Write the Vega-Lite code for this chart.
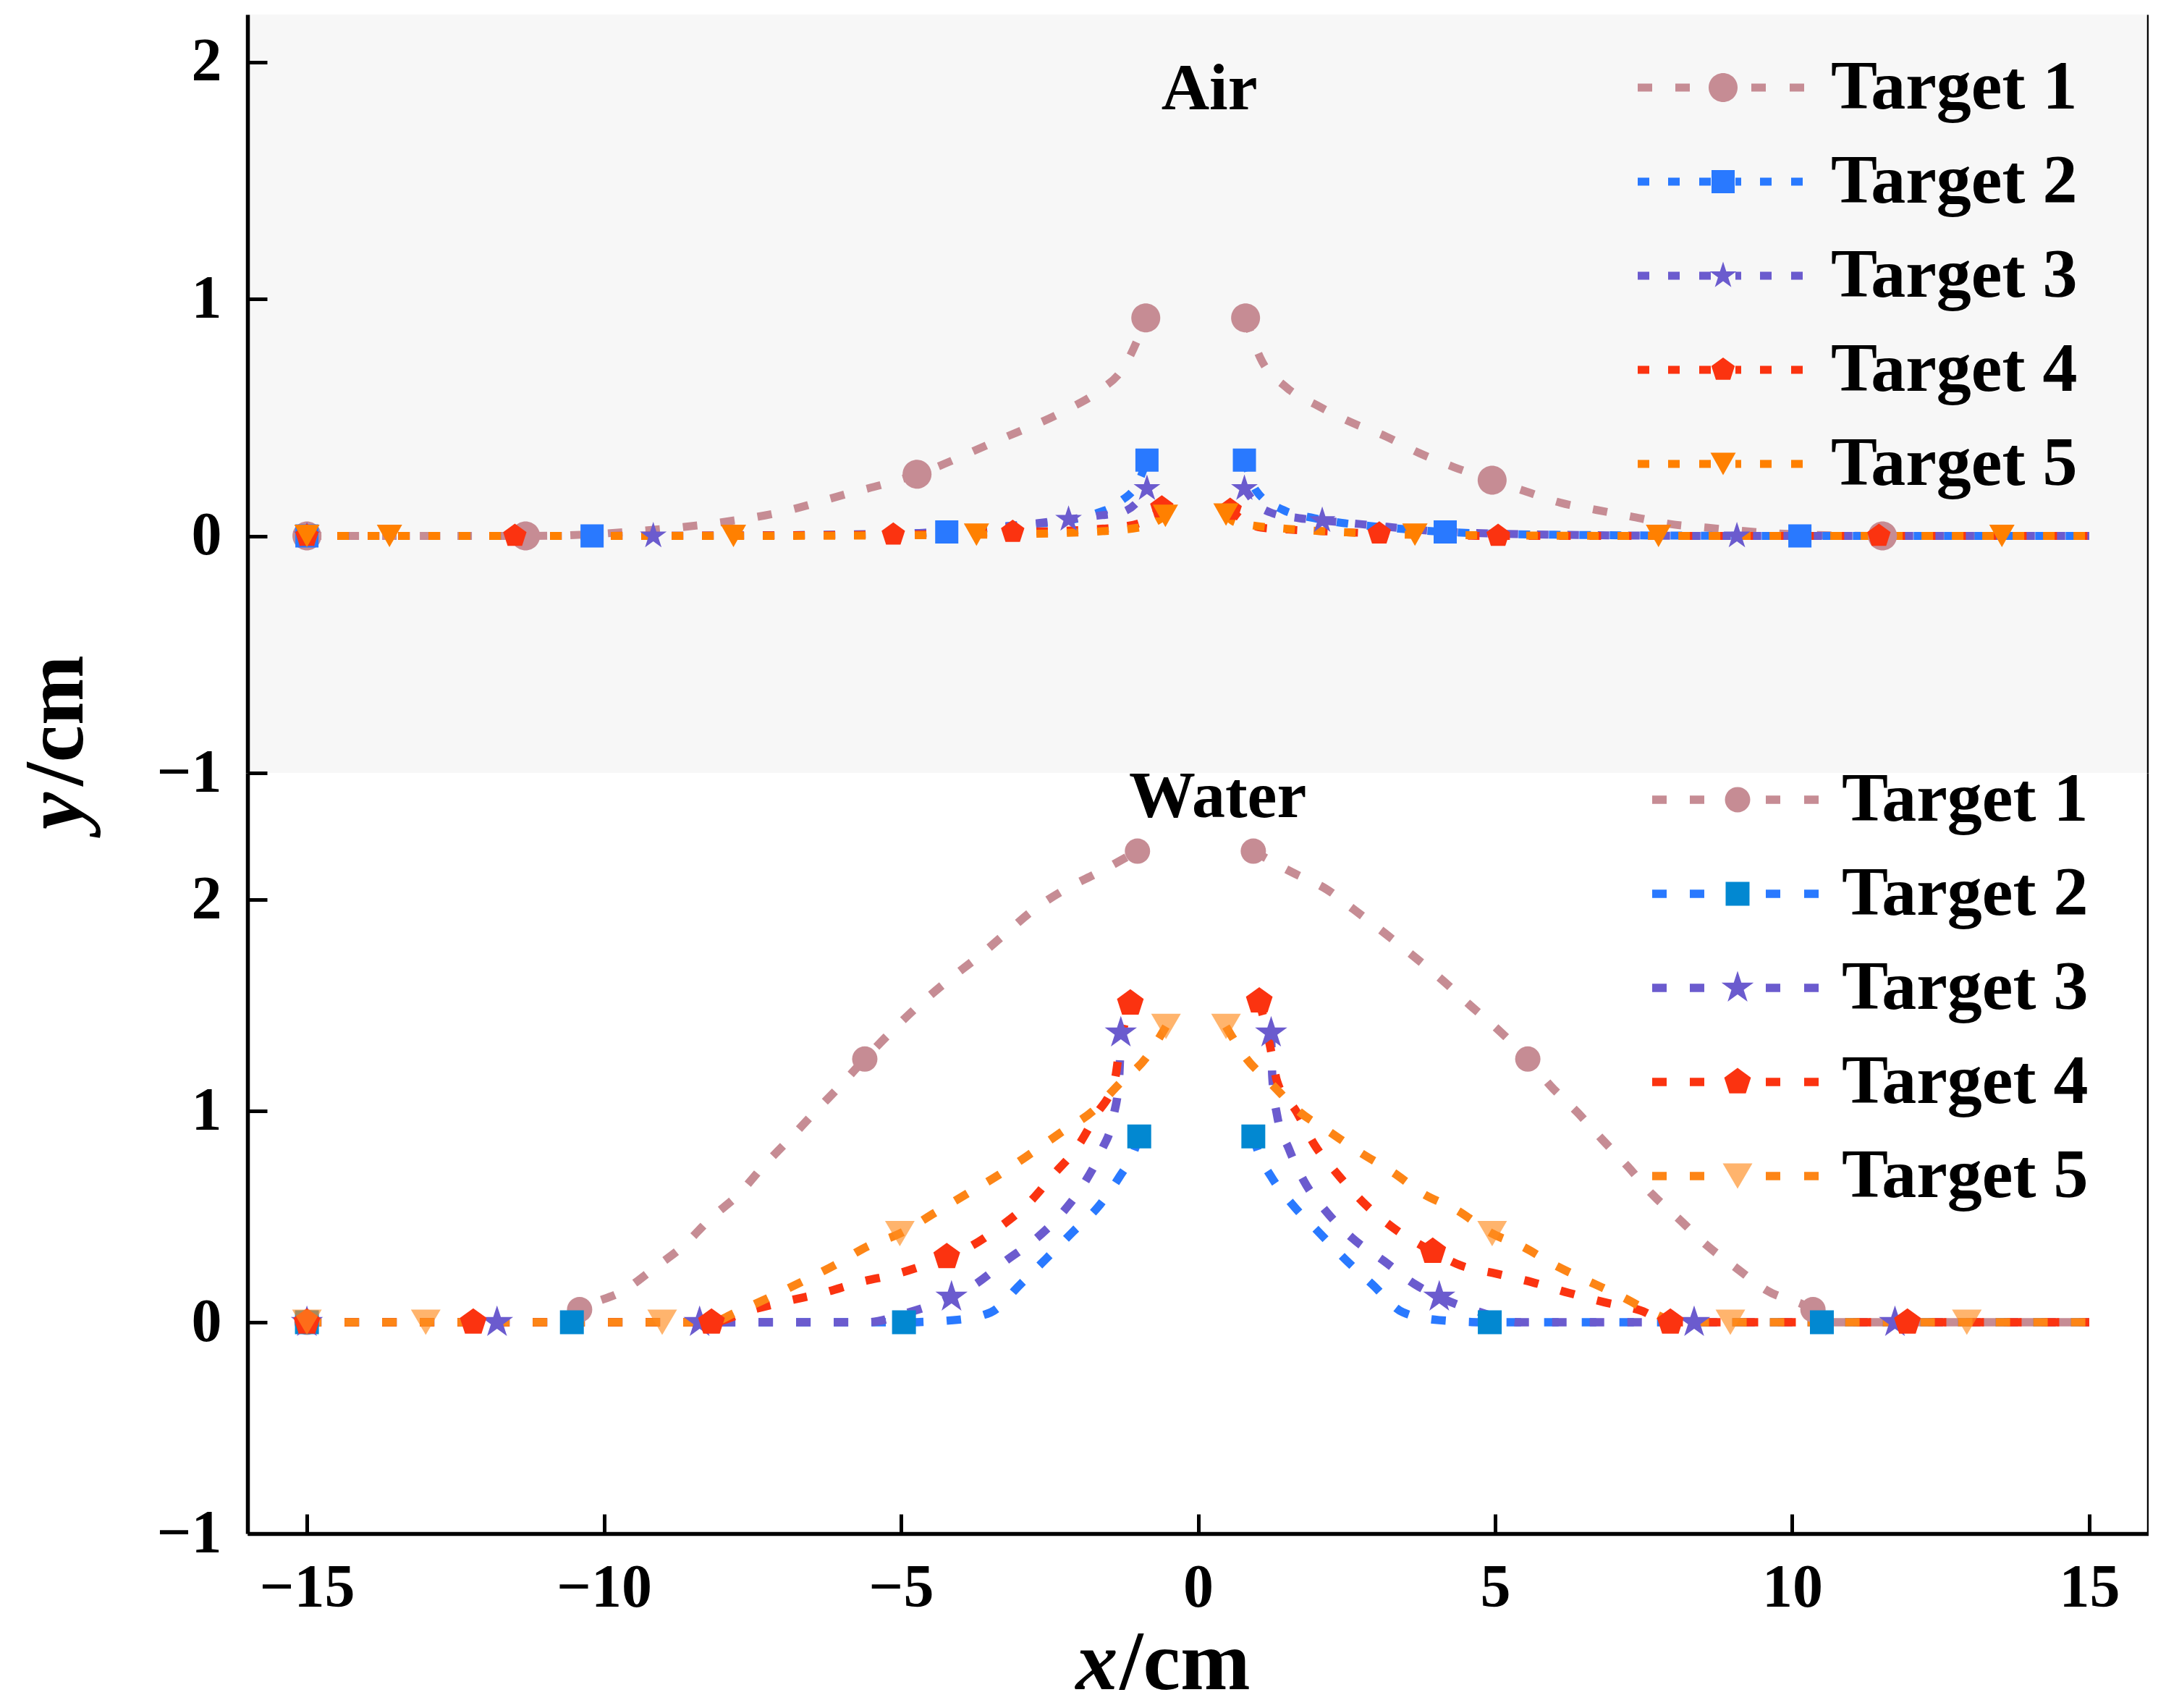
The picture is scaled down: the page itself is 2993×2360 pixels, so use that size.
{
  "$schema": "https://vega.github.io/schema/vega-lite/v6.json",
  "background": "white",
  "padding": {"left": 20, "top": 20, "right": 0, "bottom": 0},
  "spacing": 0,
  "bounds": "flush",
  "config": {
    "font": "Liberation Serif",
    "view": {"stroke": null},
    "axis": {
      "grid": false,
      "domainColor": "black",
      "domainWidth": 5.5,
      "tickColor": "black",
      "tickWidth": 5,
      "tickSize": -27,
      "labelFont": "Liberation Serif",
      "labelFontSize": 84,
      "labelFontWeight": "bold",
      "labelColor": "black",
      "titleFont": "Liberation Serif",
      "titleFontSize": 116,
      "titleFontWeight": "bold",
      "titleColor": "black"
    },
    "legend": {
      "labelFont": "Liberation Serif",
      "labelFontSize": 96,
      "labelFontWeight": "bold",
      "labelColor": "black",
      "labelLimit": 0,
      "padding": 0,
      "rowPadding": 34,
      "symbolSize": 1600
    }
  },
  "datasets": {
    "air_line": [
      {"target": "Target 1", "side": "L", "x": -15, "y": 0},
      {"target": "Target 1", "side": "L", "x": -11.32, "y": 0},
      {"target": "Target 1", "side": "L", "x": -10, "y": 0.01},
      {"target": "Target 1", "side": "L", "x": -9.45, "y": 0.02},
      {"target": "Target 1", "side": "L", "x": -8.25, "y": 0.05},
      {"target": "Target 1", "side": "L", "x": -7.03, "y": 0.1},
      {"target": "Target 1", "side": "L", "x": -5.87, "y": 0.18},
      {"target": "Target 1", "side": "L", "x": -5.26, "y": 0.22},
      {"target": "Target 1", "side": "L", "x": -4.73, "y": 0.26},
      {"target": "Target 1", "side": "L", "x": -3.4, "y": 0.4},
      {"target": "Target 1", "side": "L", "x": -2.23, "y": 0.53},
      {"target": "Target 1", "side": "L", "x": -1.68, "y": 0.61},
      {"target": "Target 1", "side": "L", "x": -1.23, "y": 0.72},
      {"target": "Target 1", "side": "L", "x": -1.0, "y": 0.84},
      {"target": "Target 1", "side": "L", "x": -0.88, "y": 0.92},
      {"target": "Target 1", "side": "R", "x": 0.8, "y": 0.92},
      {"target": "Target 1", "side": "R", "x": 1.05, "y": 0.75},
      {"target": "Target 1", "side": "R", "x": 1.47, "y": 0.63},
      {"target": "Target 1", "side": "R", "x": 2.01, "y": 0.55},
      {"target": "Target 1", "side": "R", "x": 2.57, "y": 0.48},
      {"target": "Target 1", "side": "R", "x": 3.16, "y": 0.42},
      {"target": "Target 1", "side": "R", "x": 3.72, "y": 0.35},
      {"target": "Target 1", "side": "R", "x": 4.31, "y": 0.29},
      {"target": "Target 1", "side": "R", "x": 4.95, "y": 0.235},
      {"target": "Target 1", "side": "R", "x": 5.49, "y": 0.19},
      {"target": "Target 1", "side": "R", "x": 6.1, "y": 0.14},
      {"target": "Target 1", "side": "R", "x": 6.7, "y": 0.11},
      {"target": "Target 1", "side": "R", "x": 7.33, "y": 0.08},
      {"target": "Target 1", "side": "R", "x": 7.95, "y": 0.05},
      {"target": "Target 1", "side": "R", "x": 8.56, "y": 0.035},
      {"target": "Target 1", "side": "R", "x": 9.79, "y": 0.01},
      {"target": "Target 1", "side": "R", "x": 11.52, "y": 0},
      {"target": "Target 1", "side": "R", "x": 15, "y": 0},
      {"target": "Target 2", "side": "L", "x": -15, "y": 0},
      {"target": "Target 2", "side": "L", "x": -10.2, "y": 0},
      {"target": "Target 2", "side": "L", "x": -6, "y": 0.005},
      {"target": "Target 2", "side": "L", "x": -4.23, "y": 0.017},
      {"target": "Target 2", "side": "L", "x": -3.3, "y": 0.04},
      {"target": "Target 2", "side": "L", "x": -2.82, "y": 0.05},
      {"target": "Target 2", "side": "L", "x": -2.2, "y": 0.065},
      {"target": "Target 2", "side": "L", "x": -1.78, "y": 0.09},
      {"target": "Target 2", "side": "L", "x": -1.31, "y": 0.145},
      {"target": "Target 2", "side": "L", "x": -1.0, "y": 0.23},
      {"target": "Target 2", "side": "L", "x": -0.86, "y": 0.32},
      {"target": "Target 2", "side": "R", "x": 0.78, "y": 0.32},
      {"target": "Target 2", "side": "R", "x": 0.98, "y": 0.19},
      {"target": "Target 2", "side": "R", "x": 1.43, "y": 0.11},
      {"target": "Target 2", "side": "R", "x": 1.95, "y": 0.075},
      {"target": "Target 2", "side": "R", "x": 2.42, "y": 0.055},
      {"target": "Target 2", "side": "R", "x": 2.98, "y": 0.04},
      {"target": "Target 2", "side": "R", "x": 4.16, "y": 0.017},
      {"target": "Target 2", "side": "R", "x": 6, "y": 0.005},
      {"target": "Target 2", "side": "R", "x": 10.13, "y": 0},
      {"target": "Target 2", "side": "R", "x": 15, "y": 0},
      {"target": "Target 3", "side": "L", "x": -15, "y": 0},
      {"target": "Target 3", "side": "L", "x": -9.17, "y": 0},
      {"target": "Target 3", "side": "L", "x": -5, "y": 0.01},
      {"target": "Target 3", "side": "L", "x": -3, "y": 0.045},
      {"target": "Target 3", "side": "L", "x": -2.18, "y": 0.07},
      {"target": "Target 3", "side": "L", "x": -1.7, "y": 0.085},
      {"target": "Target 3", "side": "L", "x": -1.28, "y": 0.1},
      {"target": "Target 3", "side": "L", "x": -1.0, "y": 0.15},
      {"target": "Target 3", "side": "L", "x": -0.86, "y": 0.2},
      {"target": "Target 3", "side": "R", "x": 0.78, "y": 0.2},
      {"target": "Target 3", "side": "R", "x": 1.0, "y": 0.13},
      {"target": "Target 3", "side": "R", "x": 1.21, "y": 0.1},
      {"target": "Target 3", "side": "R", "x": 1.7, "y": 0.075},
      {"target": "Target 3", "side": "R", "x": 2.09, "y": 0.065},
      {"target": "Target 3", "side": "R", "x": 2.73, "y": 0.05},
      {"target": "Target 3", "side": "R", "x": 4, "y": 0.02},
      {"target": "Target 3", "side": "R", "x": 6, "y": 0.005},
      {"target": "Target 3", "side": "R", "x": 9.07, "y": 0},
      {"target": "Target 3", "side": "R", "x": 15, "y": 0},
      {"target": "Target 4", "side": "L", "x": -15, "y": 0},
      {"target": "Target 4", "side": "L", "x": -11.5, "y": 0},
      {"target": "Target 4", "side": "L", "x": -5.13, "y": 0.005},
      {"target": "Target 4", "side": "L", "x": -3.12, "y": 0.017},
      {"target": "Target 4", "side": "L", "x": -2.0, "y": 0.025},
      {"target": "Target 4", "side": "L", "x": -1.25, "y": 0.04},
      {"target": "Target 4", "side": "L", "x": -0.85, "y": 0.07},
      {"target": "Target 4", "side": "L", "x": -0.61, "y": 0.12},
      {"target": "Target 4", "side": "R", "x": 0.54, "y": 0.11},
      {"target": "Target 4", "side": "R", "x": 0.8, "y": 0.06},
      {"target": "Target 4", "side": "R", "x": 1.06, "y": 0.035},
      {"target": "Target 4", "side": "R", "x": 1.58, "y": 0.026},
      {"target": "Target 4", "side": "R", "x": 2.08, "y": 0.02},
      {"target": "Target 4", "side": "R", "x": 3.05, "y": 0.01},
      {"target": "Target 4", "side": "R", "x": 5.05, "y": 0},
      {"target": "Target 4", "side": "R", "x": 11.46, "y": 0},
      {"target": "Target 4", "side": "R", "x": 15, "y": 0},
      {"target": "Target 5", "side": "L", "x": -15, "y": 0},
      {"target": "Target 5", "side": "L", "x": -13.61, "y": 0},
      {"target": "Target 5", "side": "L", "x": -7.82, "y": 0},
      {"target": "Target 5", "side": "L", "x": -3.73, "y": 0.005},
      {"target": "Target 5", "side": "L", "x": -2, "y": 0.015},
      {"target": "Target 5", "side": "L", "x": -1, "y": 0.035},
      {"target": "Target 5", "side": "L", "x": -0.75, "y": 0.055},
      {"target": "Target 5", "side": "L", "x": -0.55, "y": 0.085},
      {"target": "Target 5", "side": "R", "x": 0.47, "y": 0.09},
      {"target": "Target 5", "side": "R", "x": 0.6, "y": 0.06},
      {"target": "Target 5", "side": "R", "x": 0.9, "y": 0.045},
      {"target": "Target 5", "side": "R", "x": 1.5, "y": 0.03},
      {"target": "Target 5", "side": "R", "x": 2.5, "y": 0.015},
      {"target": "Target 5", "side": "R", "x": 3.65, "y": 0.005},
      {"target": "Target 5", "side": "R", "x": 7.75, "y": 0},
      {"target": "Target 5", "side": "R", "x": 13.53, "y": 0},
      {"target": "Target 5", "side": "R", "x": 15, "y": 0}
    ],
    "air_pts": [
      {"marker": "Target 1", "x": -15, "y": 0},
      {"marker": "Target 1", "x": -11.32, "y": 0},
      {"marker": "Target 1", "x": -4.73, "y": 0.26},
      {"marker": "Target 1", "x": -0.88, "y": 0.92},
      {"marker": "Target 1", "x": 0.8, "y": 0.92},
      {"marker": "Target 1", "x": 4.95, "y": 0.235},
      {"marker": "Target 1", "x": 11.52, "y": 0},
      {"marker": "Target 2", "x": -15, "y": 0},
      {"marker": "Target 2", "x": -10.2, "y": 0},
      {"marker": "Target 2", "x": -4.23, "y": 0.017},
      {"marker": "Target 2", "x": -0.86, "y": 0.32},
      {"marker": "Target 2", "x": 0.78, "y": 0.32},
      {"marker": "Target 2", "x": 4.16, "y": 0.017},
      {"marker": "Target 2", "x": 10.13, "y": 0},
      {"marker": "Target 3", "x": -15, "y": 0},
      {"marker": "Target 3", "x": -9.17, "y": 0},
      {"marker": "Target 3", "x": -2.18, "y": 0.07},
      {"marker": "Target 3", "x": -0.86, "y": 0.2},
      {"marker": "Target 3", "x": 0.78, "y": 0.2},
      {"marker": "Target 3", "x": 2.09, "y": 0.065},
      {"marker": "Target 3", "x": 9.07, "y": 0},
      {"marker": "Target 4", "x": -15, "y": 0},
      {"marker": "Target 4", "x": -11.5, "y": 0},
      {"marker": "Target 4", "x": -5.13, "y": 0.005},
      {"marker": "Target 4", "x": -3.12, "y": 0.017},
      {"marker": "Target 4", "x": -0.61, "y": 0.12},
      {"marker": "Target 4", "x": 0.54, "y": 0.11},
      {"marker": "Target 4", "x": 3.05, "y": 0.01},
      {"marker": "Target 4", "x": 5.05, "y": 0},
      {"marker": "Target 4", "x": 11.46, "y": 0},
      {"marker": "Target 5", "x": -15, "y": 0},
      {"marker": "Target 5", "x": -13.61, "y": 0},
      {"marker": "Target 5", "x": -7.82, "y": 0},
      {"marker": "Target 5", "x": -3.73, "y": 0.005},
      {"marker": "Target 5", "x": -0.55, "y": 0.085},
      {"marker": "Target 5", "x": 0.47, "y": 0.09},
      {"marker": "Target 5", "x": 3.65, "y": 0.005},
      {"marker": "Target 5", "x": 7.75, "y": 0},
      {"marker": "Target 5", "x": 13.53, "y": 0}
    ],
    "water_line": [
      {"target": "Target 1", "side": "L", "x": -15, "y": 0},
      {"target": "Target 1", "side": "L", "x": -10.7, "y": 0},
      {"target": "Target 1", "side": "L", "x": -10.41, "y": 0.06},
      {"target": "Target 1", "side": "L", "x": -9.65, "y": 0.153},
      {"target": "Target 1", "side": "L", "x": -9.15, "y": 0.257},
      {"target": "Target 1", "side": "L", "x": -8.67, "y": 0.36},
      {"target": "Target 1", "side": "L", "x": -8.21, "y": 0.49},
      {"target": "Target 1", "side": "L", "x": -7.73, "y": 0.607},
      {"target": "Target 1", "side": "L", "x": -7.33, "y": 0.735},
      {"target": "Target 1", "side": "L", "x": -6.88, "y": 0.866},
      {"target": "Target 1", "side": "L", "x": -6.45, "y": 0.995},
      {"target": "Target 1", "side": "L", "x": -6.02, "y": 1.12},
      {"target": "Target 1", "side": "L", "x": -5.61, "y": 1.246},
      {"target": "Target 1", "side": "L", "x": -5.13, "y": 1.385},
      {"target": "Target 1", "side": "L", "x": -4.7, "y": 1.5},
      {"target": "Target 1", "side": "L", "x": -4.2, "y": 1.62},
      {"target": "Target 1", "side": "L", "x": -3.7, "y": 1.73},
      {"target": "Target 1", "side": "L", "x": -3.24, "y": 1.84},
      {"target": "Target 1", "side": "L", "x": -2.78, "y": 1.95},
      {"target": "Target 1", "side": "L", "x": -2.23, "y": 2.05},
      {"target": "Target 1", "side": "L", "x": -1.67, "y": 2.13},
      {"target": "Target 1", "side": "L", "x": -1.02, "y": 2.23},
      {"target": "Target 1", "side": "R", "x": 0.93, "y": 2.23},
      {"target": "Target 1", "side": "R", "x": 1.58, "y": 2.13},
      {"target": "Target 1", "side": "R", "x": 2.16, "y": 2.05},
      {"target": "Target 1", "side": "R", "x": 2.64, "y": 1.95},
      {"target": "Target 1", "side": "R", "x": 3.15, "y": 1.84},
      {"target": "Target 1", "side": "R", "x": 3.64, "y": 1.73},
      {"target": "Target 1", "side": "R", "x": 4.11, "y": 1.62},
      {"target": "Target 1", "side": "R", "x": 4.58, "y": 1.5},
      {"target": "Target 1", "side": "R", "x": 5.05, "y": 1.385},
      {"target": "Target 1", "side": "R", "x": 5.55, "y": 1.246},
      {"target": "Target 1", "side": "R", "x": 5.93, "y": 1.12},
      {"target": "Target 1", "side": "R", "x": 6.38, "y": 0.995},
      {"target": "Target 1", "side": "R", "x": 6.8, "y": 0.866},
      {"target": "Target 1", "side": "R", "x": 7.24, "y": 0.735},
      {"target": "Target 1", "side": "R", "x": 7.64, "y": 0.607},
      {"target": "Target 1", "side": "R", "x": 8.09, "y": 0.49},
      {"target": "Target 1", "side": "R", "x": 8.58, "y": 0.36},
      {"target": "Target 1", "side": "R", "x": 9.06, "y": 0.257},
      {"target": "Target 1", "side": "R", "x": 9.56, "y": 0.153},
      {"target": "Target 1", "side": "R", "x": 10.35, "y": 0.06},
      {"target": "Target 1", "side": "R", "x": 10.65, "y": 0},
      {"target": "Target 1", "side": "R", "x": 15, "y": 0},
      {"target": "Target 2", "side": "L", "x": -15, "y": 0},
      {"target": "Target 2", "side": "L", "x": -10.54, "y": 0},
      {"target": "Target 2", "side": "L", "x": -4.95, "y": 0},
      {"target": "Target 2", "side": "L", "x": -4.12, "y": 0.01},
      {"target": "Target 2", "side": "L", "x": -3.49, "y": 0.047},
      {"target": "Target 2", "side": "L", "x": -2.99, "y": 0.18},
      {"target": "Target 2", "side": "L", "x": -2.56, "y": 0.3},
      {"target": "Target 2", "side": "L", "x": -2.1, "y": 0.43},
      {"target": "Target 2", "side": "L", "x": -1.67, "y": 0.55},
      {"target": "Target 2", "side": "L", "x": -1.32, "y": 0.69},
      {"target": "Target 2", "side": "L", "x": -1.09, "y": 0.8},
      {"target": "Target 2", "side": "L", "x": -0.99, "y": 0.88},
      {"target": "Target 2", "side": "R", "x": 0.93, "y": 0.88},
      {"target": "Target 2", "side": "R", "x": 1.02, "y": 0.8},
      {"target": "Target 2", "side": "R", "x": 1.23, "y": 0.69},
      {"target": "Target 2", "side": "R", "x": 1.61, "y": 0.55},
      {"target": "Target 2", "side": "R", "x": 2.02, "y": 0.43},
      {"target": "Target 2", "side": "R", "x": 2.47, "y": 0.3},
      {"target": "Target 2", "side": "R", "x": 2.93, "y": 0.18},
      {"target": "Target 2", "side": "R", "x": 3.45, "y": 0.047},
      {"target": "Target 2", "side": "R", "x": 4.06, "y": 0.01},
      {"target": "Target 2", "side": "R", "x": 4.91, "y": 0},
      {"target": "Target 2", "side": "R", "x": 10.5, "y": 0},
      {"target": "Target 2", "side": "R", "x": 15, "y": 0},
      {"target": "Target 3", "side": "L", "x": -15, "y": 0},
      {"target": "Target 3", "side": "L", "x": -11.8, "y": 0},
      {"target": "Target 3", "side": "L", "x": -8.39, "y": 0},
      {"target": "Target 3", "side": "L", "x": -5.56, "y": 0},
      {"target": "Target 3", "side": "L", "x": -4.95, "y": 0.04},
      {"target": "Target 3", "side": "L", "x": -4.15, "y": 0.12},
      {"target": "Target 3", "side": "L", "x": -3.75, "y": 0.18},
      {"target": "Target 3", "side": "L", "x": -3.24, "y": 0.29},
      {"target": "Target 3", "side": "L", "x": -2.71, "y": 0.4},
      {"target": "Target 3", "side": "L", "x": -2.28, "y": 0.52},
      {"target": "Target 3", "side": "L", "x": -1.89, "y": 0.67},
      {"target": "Target 3", "side": "L", "x": -1.63, "y": 0.81},
      {"target": "Target 3", "side": "L", "x": -1.42, "y": 0.98},
      {"target": "Target 3", "side": "L", "x": -1.33, "y": 1.15},
      {"target": "Target 3", "side": "L", "x": -1.3, "y": 1.37},
      {"target": "Target 3", "side": "R", "x": 1.23, "y": 1.37},
      {"target": "Target 3", "side": "R", "x": 1.25, "y": 1.16},
      {"target": "Target 3", "side": "R", "x": 1.33, "y": 0.98},
      {"target": "Target 3", "side": "R", "x": 1.53, "y": 0.82},
      {"target": "Target 3", "side": "R", "x": 1.78, "y": 0.67},
      {"target": "Target 3", "side": "R", "x": 2.17, "y": 0.52},
      {"target": "Target 3", "side": "R", "x": 2.59, "y": 0.4},
      {"target": "Target 3", "side": "R", "x": 3.13, "y": 0.29},
      {"target": "Target 3", "side": "R", "x": 3.65, "y": 0.18},
      {"target": "Target 3", "side": "R", "x": 4.06, "y": 0.12},
      {"target": "Target 3", "side": "R", "x": 4.84, "y": 0.04},
      {"target": "Target 3", "side": "R", "x": 5.4, "y": 0},
      {"target": "Target 3", "side": "R", "x": 8.35, "y": 0},
      {"target": "Target 3", "side": "R", "x": 11.73, "y": 0},
      {"target": "Target 3", "side": "R", "x": 15, "y": 0},
      {"target": "Target 4", "side": "L", "x": -15, "y": 0},
      {"target": "Target 4", "side": "L", "x": -12.2, "y": 0},
      {"target": "Target 4", "side": "L", "x": -8.19, "y": 0},
      {"target": "Target 4", "side": "L", "x": -7.53, "y": 0.057},
      {"target": "Target 4", "side": "L", "x": -6.92, "y": 0.1},
      {"target": "Target 4", "side": "L", "x": -6.3, "y": 0.14},
      {"target": "Target 4", "side": "L", "x": -5.69, "y": 0.19},
      {"target": "Target 4", "side": "L", "x": -5.06, "y": 0.23},
      {"target": "Target 4", "side": "L", "x": -4.23, "y": 0.31},
      {"target": "Target 4", "side": "L", "x": -3.89, "y": 0.35},
      {"target": "Target 4", "side": "L", "x": -3.34, "y": 0.45},
      {"target": "Target 4", "side": "L", "x": -2.83, "y": 0.57},
      {"target": "Target 4", "side": "L", "x": -2.43, "y": 0.7},
      {"target": "Target 4", "side": "L", "x": -2.03, "y": 0.83},
      {"target": "Target 4", "side": "L", "x": -1.72, "y": 0.98},
      {"target": "Target 4", "side": "L", "x": -1.4, "y": 1.15},
      {"target": "Target 4", "side": "L", "x": -1.32, "y": 1.3},
      {"target": "Target 4", "side": "L", "x": -1.14, "y": 1.51},
      {"target": "Target 4", "side": "R", "x": 1.03, "y": 1.52},
      {"target": "Target 4", "side": "R", "x": 1.21, "y": 1.31},
      {"target": "Target 4", "side": "R", "x": 1.33, "y": 1.14},
      {"target": "Target 4", "side": "R", "x": 1.65, "y": 1.0},
      {"target": "Target 4", "side": "R", "x": 1.96, "y": 0.84},
      {"target": "Target 4", "side": "R", "x": 2.35, "y": 0.7},
      {"target": "Target 4", "side": "R", "x": 2.77, "y": 0.57},
      {"target": "Target 4", "side": "R", "x": 3.27, "y": 0.45},
      {"target": "Target 4", "side": "R", "x": 3.95, "y": 0.335},
      {"target": "Target 4", "side": "R", "x": 4.41, "y": 0.27},
      {"target": "Target 4", "side": "R", "x": 5.02, "y": 0.23},
      {"target": "Target 4", "side": "R", "x": 5.62, "y": 0.19},
      {"target": "Target 4", "side": "R", "x": 6.23, "y": 0.14},
      {"target": "Target 4", "side": "R", "x": 6.84, "y": 0.095},
      {"target": "Target 4", "side": "R", "x": 7.44, "y": 0.057},
      {"target": "Target 4", "side": "R", "x": 7.95, "y": 0},
      {"target": "Target 4", "side": "R", "x": 11.94, "y": 0},
      {"target": "Target 4", "side": "R", "x": 15, "y": 0},
      {"target": "Target 5", "side": "L", "x": -15, "y": 0},
      {"target": "Target 5", "side": "L", "x": -13.0, "y": 0},
      {"target": "Target 5", "side": "L", "x": -9.02, "y": 0},
      {"target": "Target 5", "side": "L", "x": -8.2, "y": 0},
      {"target": "Target 5", "side": "L", "x": -7.78, "y": 0.047},
      {"target": "Target 5", "side": "L", "x": -7.2, "y": 0.12},
      {"target": "Target 5", "side": "L", "x": -6.64, "y": 0.196},
      {"target": "Target 5", "side": "L", "x": -6.12, "y": 0.27},
      {"target": "Target 5", "side": "L", "x": -5.56, "y": 0.36},
      {"target": "Target 5", "side": "L", "x": -5.02, "y": 0.42},
      {"target": "Target 5", "side": "L", "x": -4.42, "y": 0.52},
      {"target": "Target 5", "side": "L", "x": -3.88, "y": 0.61},
      {"target": "Target 5", "side": "L", "x": -3.34, "y": 0.7},
      {"target": "Target 5", "side": "L", "x": -2.81, "y": 0.8},
      {"target": "Target 5", "side": "L", "x": -2.3, "y": 0.9},
      {"target": "Target 5", "side": "L", "x": -1.77, "y": 1.0},
      {"target": "Target 5", "side": "L", "x": -1.32, "y": 1.13},
      {"target": "Target 5", "side": "L", "x": -0.88, "y": 1.25},
      {"target": "Target 5", "side": "L", "x": -0.54, "y": 1.4},
      {"target": "Target 5", "side": "R", "x": 0.47, "y": 1.4},
      {"target": "Target 5", "side": "R", "x": 0.81, "y": 1.25},
      {"target": "Target 5", "side": "R", "x": 1.23, "y": 1.13},
      {"target": "Target 5", "side": "R", "x": 1.69, "y": 1.0},
      {"target": "Target 5", "side": "R", "x": 2.22, "y": 0.9},
      {"target": "Target 5", "side": "R", "x": 2.75, "y": 0.8},
      {"target": "Target 5", "side": "R", "x": 3.28, "y": 0.71},
      {"target": "Target 5", "side": "R", "x": 3.78, "y": 0.61},
      {"target": "Target 5", "side": "R", "x": 4.36, "y": 0.53},
      {"target": "Target 5", "side": "R", "x": 4.95, "y": 0.42},
      {"target": "Target 5", "side": "R", "x": 5.45, "y": 0.36},
      {"target": "Target 5", "side": "R", "x": 6.01, "y": 0.27},
      {"target": "Target 5", "side": "R", "x": 6.56, "y": 0.196},
      {"target": "Target 5", "side": "R", "x": 7.14, "y": 0.12},
      {"target": "Target 5", "side": "R", "x": 7.69, "y": 0.04},
      {"target": "Target 5", "side": "R", "x": 8.1, "y": 0},
      {"target": "Target 5", "side": "R", "x": 8.96, "y": 0},
      {"target": "Target 5", "side": "R", "x": 12.94, "y": 0},
      {"target": "Target 5", "side": "R", "x": 15, "y": 0}
    ],
    "water_pts": [
      {"marker": "Target 1", "x": -15, "y": 0},
      {"marker": "Target 1", "x": -10.41, "y": 0.06},
      {"marker": "Target 1", "x": -5.61, "y": 1.246},
      {"marker": "Target 1", "x": -1.02, "y": 2.23},
      {"marker": "Target 1", "x": 0.93, "y": 2.23},
      {"marker": "Target 1", "x": 5.55, "y": 1.246},
      {"marker": "Target 1", "x": 10.35, "y": 0.06},
      {"marker": "Target 2", "x": -15, "y": 0},
      {"marker": "Target 2", "x": -10.54, "y": 0},
      {"marker": "Target 2", "x": -4.95, "y": 0},
      {"marker": "Target 2", "x": -0.99, "y": 0.88},
      {"marker": "Target 2", "x": 0.93, "y": 0.88},
      {"marker": "Target 2", "x": 4.91, "y": 0},
      {"marker": "Target 2", "x": 10.5, "y": 0},
      {"marker": "Target 3", "x": -15, "y": 0},
      {"marker": "Target 3", "x": -11.8, "y": 0},
      {"marker": "Target 3", "x": -8.39, "y": 0},
      {"marker": "Target 3", "x": -4.15, "y": 0.12},
      {"marker": "Target 3", "x": -1.3, "y": 1.37},
      {"marker": "Target 3", "x": 1.23, "y": 1.37},
      {"marker": "Target 3", "x": 4.06, "y": 0.12},
      {"marker": "Target 3", "x": 8.35, "y": 0},
      {"marker": "Target 3", "x": 11.73, "y": 0},
      {"marker": "Target 4", "x": -15, "y": 0},
      {"marker": "Target 4", "x": -12.2, "y": 0},
      {"marker": "Target 4", "x": -8.19, "y": 0},
      {"marker": "Target 4", "x": -4.23, "y": 0.31},
      {"marker": "Target 4", "x": -1.14, "y": 1.51},
      {"marker": "Target 4", "x": 1.03, "y": 1.52},
      {"marker": "Target 4", "x": 3.95, "y": 0.335},
      {"marker": "Target 4", "x": 7.95, "y": 0},
      {"marker": "Target 4", "x": 11.94, "y": 0},
      {"marker": "Target 5", "x": -15, "y": 0},
      {"marker": "Target 5", "x": -13.0, "y": 0},
      {"marker": "Target 5", "x": -9.02, "y": 0},
      {"marker": "Target 5", "x": -5.02, "y": 0.42},
      {"marker": "Target 5", "x": -0.54, "y": 1.4},
      {"marker": "Target 5", "x": 0.47, "y": 1.4},
      {"marker": "Target 5", "x": 4.95, "y": 0.42},
      {"marker": "Target 5", "x": 8.96, "y": 0},
      {"marker": "Target 5", "x": 12.94, "y": 0}
    ]
  },
  "resolve": {
    "scale": {"stroke": "independent", "fill": "independent", "shape": "independent", "strokeDash": "independent"},
    "legend": {"stroke": "independent", "fill": "independent", "shape": "independent"}
  },
  "vconcat": [
    {
      "width": 2627,
      "height": 1048,
      "view": {"fill": "#F7F7F7", "stroke": null},
      "layer": [
        {
          "data": {"name": "air_line"},
          "mark": {"type": "line", "interpolate": "monotone", "strokeWidth": 11},
          "encoding": {
            "x": {"field": "x", "type": "quantitative", "scale": {"domain": [-16, 16], "nice": false, "zero": false},
              "axis": {"orient": "top", "labels": false, "ticks": false, "title": null}},
            "y": {"field": "y", "type": "quantitative", "scale": {"domain": [-1, 2.2], "nice": false, "zero": false},
              "axis": {"orient": "left", "values": [-1, 0, 1, 2], "labelPadding": 63, "title": "y", "titleFontStyle": "italic", "titleAngle": 270, "titleX": -229, "titleY": 1100, "titleAlign": "center", "titleBaseline": "alphabetic"}},
            "stroke": {"field": "target", "type": "nominal",
              "scale": {"range": ["#C68C94", "#2979FF", "#6B5BCE", "#FB3310", "#FF8000"]},
              "legend": {"orient": "none", "legendX": 1991, "legendY": 53, "title": null, "labelOffset": 101,
                "symbolType": "M-5.9,0L-4.9,0M-3.3,0L-2.3,0M1.95,0L2.95,0M4.6,0L5.6,0",
                "symbolStrokeWidth": 11,
                "encode": {"symbols": {"update": {
                  "shape": {"signal": "datum.value === 'Target 1' ? 'M-5.9,0L-4.9,0M-3.3,0L-2.3,0M1.95,0L2.95,0M4.6,0L5.6,0' : 'M-5.9,0L-5.1,0M-3.8,0L-3,0M-1.65,0L-0.85,0M0.85,0L1.25,0M2.55,0L3.35,0M4.7,0L5.5,0'"},
                  "strokeDash": {"value": [1000, 0]}}}}}},
            "strokeDash": {"field": "target", "type": "nominal",
              "scale": {"range": [[20, 32], [16, 26], [16, 26], [16, 26], [16, 26]]}, "legend": null},
            "detail": {"field": "side"}
          }
        },
        {
          "data": {"name": "air_pts"},
          "mark": {"type": "point", "filled": true, "opacity": 1, "size": 1600, "strokeWidth": 0},
          "encoding": {
            "x": {"field": "x", "type": "quantitative", "scale": {"domain": [-16, 16], "nice": false, "zero": false}, "axis": null},
            "y": {"field": "y", "type": "quantitative", "scale": {"domain": [-1, 2.2], "nice": false, "zero": false},
              "axis": {"orient": "right", "labels": false, "ticks": false, "title": null}},
            "shape": {"field": "marker", "type": "nominal",
              "scale": {"range": [
                "M1,0A1,1 0 1,1 -1,0A1,1 0 1,1 1,0Z",
                "M-0.8,-0.8L0.8,-0.8L0.8,0.8L-0.8,0.8Z",
                "M0,-0.97L0.2175,-0.2993L0.9226,-0.2997L0.3519,0.1143L0.5702,0.7847L0,0.37L-0.5702,0.7847L-0.3519,0.1143L-0.9226,-0.2997L-0.2175,-0.2993Z",
                "M0,-0.85L0.8084,-0.2627L0.4996,0.6877L-0.4996,0.6877L-0.8084,-0.2627Z",
                "M-0.875,-0.775L0.875,-0.775L0,0.775Z"]},
              "legend": {"orient": "none", "legendX": 1991, "legendY": 53, "title": null, "labelOffset": 101, "labelOpacity": 0}},
            "fill": {"field": "marker", "type": "nominal",
              "scale": {"range": ["#C68C94", "#2979FF", "#6B5BCE", "#FB3310", "#FF8000"]},
              "legend": {"orient": "none", "legendX": 1991, "legendY": 53, "title": null, "labelOffset": 101, "labelOpacity": 0}}
          }
        },
        {
          "data": {"values": [{"x": 0.19, "y": 1.8, "label": "Air"}]},
          "mark": {"type": "text", "font": "Liberation Serif", "fontSize": 92, "fontWeight": "bold", "align": "center", "baseline": "alphabetic", "color": "black"},
          "encoding": {
            "x": {"field": "x", "type": "quantitative", "scale": {"domain": [-16, 16], "nice": false, "zero": false}, "axis": null},
            "y": {"field": "y", "type": "quantitative", "scale": {"domain": [-1, 2.2], "nice": false, "zero": false},
              "axis": {"orient": "left", "labels": false, "ticks": false, "domain": false, "title": "/cm", "titleAngle": 270, "titleX": -229, "titleY": 975, "titleAlign": "center", "titleBaseline": "alphabetic"}},
            "text": {"field": "label"}
          }
        }
      ],
      "resolve": {"axis": {"y": "independent"}}
    },
    {
      "width": 2627,
      "height": 1051,
      "view": {"stroke": null},
      "layer": [
        {
          "data": {"name": "water_line"},
          "mark": {"type": "line", "interpolate": "monotone", "strokeWidth": 11.5, "strokeDash": [20, 32]},
          "encoding": {
            "x": {"field": "x", "type": "quantitative", "scale": {"domain": [-16, 16], "nice": false, "zero": false},
              "axis": {"orient": "bottom", "values": [-15, -10, -5, 0, 5, 10, 15], "labelPadding": 61, "title": "x", "titleFontStyle": "italic", "titleX": 1173, "titleY": 214, "titleAlign": "center", "titleBaseline": "alphabetic", "titleAngle": 0}},
            "y": {"field": "y", "type": "quantitative", "scale": {"domain": [-1, 2.6], "nice": false, "zero": false},
              "axis": {"orient": "left", "values": [-1, 0, 1, 2], "labelPadding": 63, "title": null}},
            "stroke": {"field": "target", "type": "nominal",
              "scale": {"range": ["#C68C94", "#2979FF", "#6B5BCE", "#FB3310", "#FD8516"]},
              "legend": {"orient": "none", "legendX": 2011, "legendY": -11, "title": null, "labelOffset": 96,
                "symbolType": "M-5.9,0L-4.9,0M-3.3,0L-2.3,0M1.95,0L2.95,0M4.6,0L5.6,0",
                "symbolStrokeWidth": 11.5,
                "encode": {"symbols": {"update": {"strokeDash": {"value": [1000, 0]}}}}}},
            "detail": {"field": "side"}
          }
        },
        {
          "data": {"name": "water_pts"},
          "mark": {"type": "point", "filled": true, "opacity": 1, "size": 1600, "strokeWidth": 0},
          "encoding": {
            "x": {"field": "x", "type": "quantitative", "scale": {"domain": [-16, 16], "nice": false, "zero": false},
              "axis": {"orient": "bottom", "labels": false, "ticks": false, "domain": false, "title": "/cm", "titleX": 1295, "titleY": 214, "titleAlign": "center", "titleBaseline": "alphabetic", "titleAngle": 0}},
            "y": {"field": "y", "type": "quantitative", "scale": {"domain": [-1, 2.6], "nice": false, "zero": false},
              "axis": {"orient": "right", "labels": false, "ticks": false, "title": null}},
            "shape": {"field": "marker", "type": "nominal",
              "scale": {"range": [
                "M0.875,0A0.875,0.875 0 1,1 -0.875,0A0.875,0.875 0 1,1 0.875,0Z",
                "M-0.825,-0.825L0.825,-0.825L0.825,0.825L-0.825,0.825Z",
                "M0,-1.17L0.2627,-0.3616L1.1127,-0.3615L0.4251,0.1381L0.6877,0.9466L0,0.447L-0.6877,0.9466L-0.4251,0.1381L-1.1127,-0.3615L-0.2627,-0.3616Z",
                "M0,-0.97L0.9226,-0.2997L0.5702,0.7847L-0.5702,0.7847L-0.9226,-0.2997Z",
                "M-1.025,-0.875L1.025,-0.875L0,0.875Z"]},
              "legend": {"orient": "none", "legendX": 2011, "legendY": -11, "title": null, "labelOffset": 96, "labelOpacity": 0}},
            "fill": {"field": "marker", "type": "nominal",
              "scale": {"range": ["#C68C94", "#0288D1", "#6B5BCE", "#FB3310", "rgba(255,140,30,0.65)"]},
              "legend": {"orient": "none", "legendX": 2011, "legendY": -11, "title": null, "labelOffset": 96, "labelOpacity": 0}}
          }
        },
        {
          "data": {"values": [{"x": 0.33, "y": 2.39, "label": "Water"}]},
          "mark": {"type": "text", "font": "Liberation Serif", "fontSize": 92, "fontWeight": "bold", "align": "center", "baseline": "alphabetic", "color": "black"},
          "encoding": {
            "x": {"field": "x", "type": "quantitative", "scale": {"domain": [-16, 16], "nice": false, "zero": false}, "axis": null},
            "y": {"field": "y", "type": "quantitative", "scale": {"domain": [-1, 2.6], "nice": false, "zero": false}, "axis": null},
            "text": {"field": "label"}
          }
        }
      ],
      "resolve": {"axis": {"x": "independent", "y": "independent"}}
    }
  ]
}
